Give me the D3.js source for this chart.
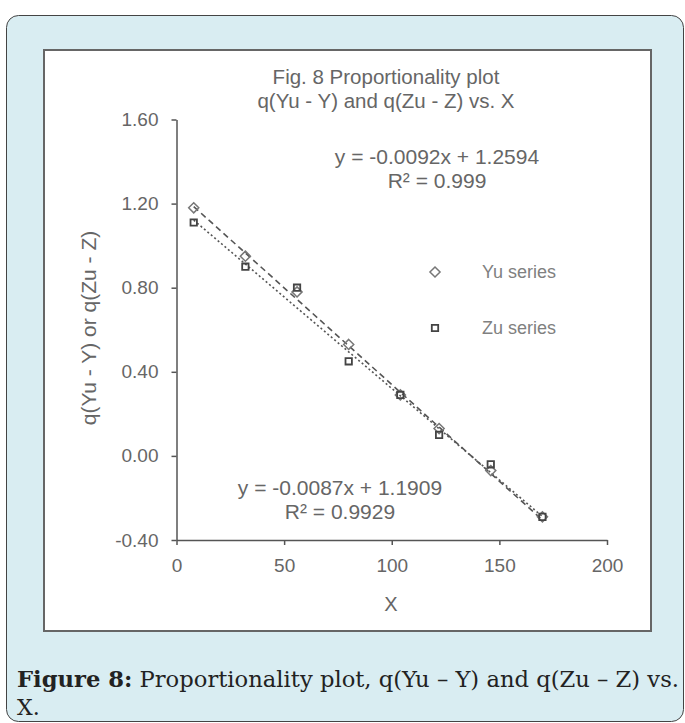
<!DOCTYPE html>
<html>
<head>
<meta charset="utf-8">
<script src="https://cdn.jsdelivr.net/npm/d3@7"></script>
<style>
  html, body { margin: 0; padding: 0; background: #fff; }
</style>
</head>
<body>
<div id="chart"></div>
<script>
// data
const xVals = [8, 32, 56, 80, 104, 122, 146, 170];
const yuVals = [1.18, 0.95, 0.78, 0.53, 0.29, 0.13, -0.07, -0.29];
const zuVals = [1.11, 0.90, 0.80, 0.45, 0.29, 0.10, -0.04, -0.29];
const seriesNames = ["Yu series", "Zu series"];
const trendSlope = [-0.0092, -0.0087];
const trendIntercept = [1.2594, 1.1909];
const trendLabels = [["y = -0.0092x + 1.2594", "R\u00b2 = 0.999"], ["y = -0.0087x + 1.1909", "R\u00b2 = 0.9929"]];
const xTicks = [0, 50, 100, 150, 200];
const yTicks = [-0.4, 0, 0.4, 0.8, 1.2, 1.6];

const W = 685, H = 723;
const textColor = "#666";
const font = "'Liberation Sans', Arial, sans-serif";

const svg = d3.select("#chart").append("svg")
    .attr("width", W)
    .attr("height", H);

// outer caption panel
svg.append("rect")
    .attr("x", 6.5).attr("y", 15.5)
    .attr("width", 677).attr("height", 706)
    .attr("rx", 12)
    .attr("fill", "#d9edf2")
    .attr("stroke", "#444")
    .attr("stroke-width", 1);

// white chart box
svg.append("rect")
    .attr("x", 44).attr("y", 50)
    .attr("width", 607).attr("height", 581)
    .attr("fill", "#fff")
    .attr("stroke", "#666")
    .attr("stroke-width", 2);

const x = d3.scaleLinear().domain([0, 200]).range([176.5, 607]);
const y = d3.scaleLinear().domain([-0.4, 1.6]).range([540, 119.5]);

// excel style: plain hyphen for negatives
const fmtY = d => d3.format(".2f")(d).replace("\u2212", "-");

const yAxis = svg.append("g")
    .attr("transform", `translate(${x(0)},0)`)
    .call(d3.axisLeft(y).tickValues(yTicks).tickFormat(fmtY).tickSize(5).tickSizeOuter(0).tickPadding(13));

const xAxis = svg.append("g")
    .attr("transform", `translate(0,${y(-0.4)})`)
    .call(d3.axisBottom(x).tickValues(xTicks).tickSize(5).tickSizeOuter(0).tickPadding(14));

[xAxis, yAxis].forEach(g => {
    g.select(".domain").attr("stroke", "#555").attr("stroke-width", 1.5);
    g.selectAll(".tick line").attr("stroke", "#555").attr("stroke-width", 1.5);
    g.selectAll(".tick text")
        .attr("fill", textColor)
        .style("font-family", font)
        .style("font-size", "19px");
});

// trendlines, drawn over the range of the data like excel does
const xMin = d3.min(xVals), xMax = d3.max(xVals);
const dashes = ["6,4", "2,2.5"];
trendSlope.forEach((m, i) => {
    svg.append("line")
        .attr("x1", x(xMin)).attr("y1", y(m * xMin + trendIntercept[i]))
        .attr("x2", x(xMax)).attr("y2", y(m * xMax + trendIntercept[i]))
        .attr("stroke", "#555")
        .attr("stroke-width", 1.6)
        .attr("stroke-dasharray", dashes[i]);
});

// markers
const diamond = d3.symbol().type(d3.symbolDiamond2).size(65);
const square = d3.symbol().type(d3.symbolSquare2).size(52);

svg.append("g").selectAll("path")
    .data(xVals.map((d, i) => [d, yuVals[i]]))
    .join("path")
    .attr("d", diamond)
    .attr("transform", d => `translate(${x(d[0])},${y(d[1])})`)
    .attr("fill", "none")
    .attr("stroke", "#777")
    .attr("stroke-width", 1.5);

svg.append("g").selectAll("path")
    .data(xVals.map((d, i) => [d, zuVals[i]]))
    .join("path")
    .attr("d", square)
    .attr("transform", d => `translate(${x(d[0])},${y(d[1])})`)
    .attr("fill", "none")
    .attr("stroke", "#444")
    .attr("stroke-width", 1.8);

function label(tx, ty, str, size, anchor, fill) {
    return svg.append("text")
        .attr("x", tx).attr("y", ty)
        .attr("dy", "0.35em")
        .attr("text-anchor", anchor || "middle")
        .attr("fill", fill || textColor)
        .style("font-family", font)
        .style("font-size", size + "px")
        .text(str);
}

// title
label(386, 77, "Fig. 8 Proportionality plot", 20.5);
label(386, 101, "q(Yu - Y) and q(Zu - Z) vs. X", 20.5);

// trend equations
label(437, 157, trendLabels[0][0], 21);
label(437, 181, trendLabels[0][1], 21);
label(340, 488, trendLabels[1][0], 21);
label(340, 512, trendLabels[1][1], 21);

// axis titles
label(391, 604, "X", 20);
svg.append("text")
    .attr("transform", "translate(89,328) rotate(-90)")
    .attr("dy", "0.35em")
    .attr("text-anchor", "middle")
    .attr("fill", textColor)
    .style("font-family", font)
    .style("font-size", "21px")
    .text("q(Yu - Y) or q(Zu - Z)");

// legend
svg.append("path").attr("d", diamond)
    .attr("transform", "translate(435,272)")
    .attr("fill", "none").attr("stroke", "#777").attr("stroke-width", 1.5);
svg.append("path").attr("d", square)
    .attr("transform", "translate(435,328)")
    .attr("fill", "none").attr("stroke", "#444").attr("stroke-width", 1.8);
label(482, 272, seriesNames[0], 18, "start", "#808080");
label(482, 328, seriesNames[1], 18, "start", "#808080");

// caption
const capFont = "'DejaVu Serif', 'Liberation Serif', serif";
const cap = svg.append("text")
    .attr("x", 17).attr("y", 687)
    .attr("fill", "#222")
    .style("font-family", capFont)
    .style("font-size", "22px");
cap.append("tspan").attr("font-weight", "bold").text("Figure 8:");
cap.append("tspan").text(" Proportionality plot, q(Yu \u2013 Y) and q(Zu \u2013 Z) vs.");
cap.attr("textLength", 662).attr("lengthAdjust", "spacingAndGlyphs");

svg.append("text")
    .attr("x", 17).attr("y", 715)
    .attr("fill", "#222")
    .style("font-family", capFont)
    .style("font-size", "22px")
    .text("X.");
</script>
</body>
</html>
